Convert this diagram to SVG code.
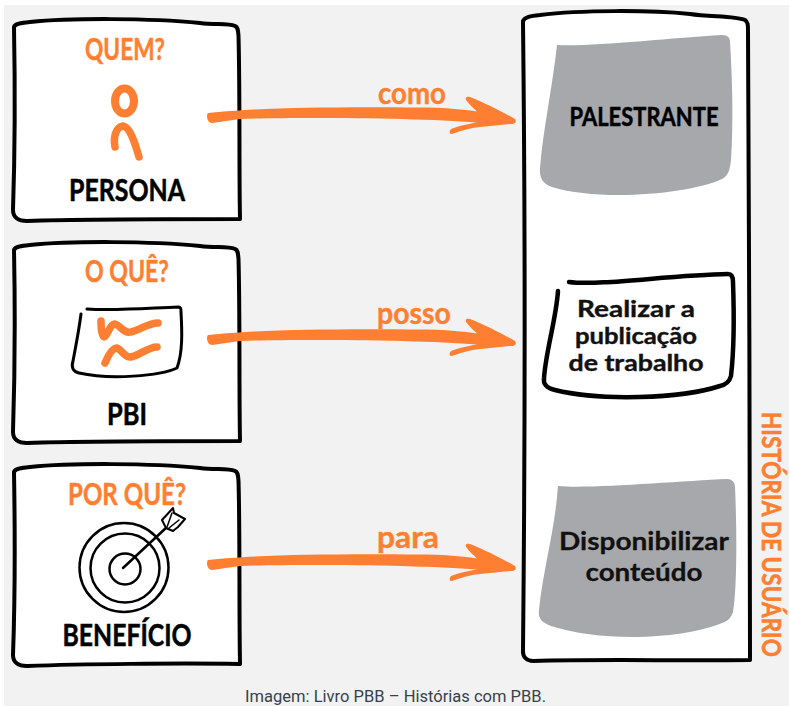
<svg xmlns="http://www.w3.org/2000/svg" width="789" height="706" viewBox="0 0 789 706">
<defs>
<style>
.box{fill:#fff;stroke:#000;stroke-width:4;stroke-linejoin:round}
.ink{fill:none;stroke:#000;stroke-linecap:round;stroke-linejoin:round}
.or{fill:none;stroke:#ff7f32;stroke-linecap:round;stroke-linejoin:round}
.gr{fill:#a7a8ab}
text{font-family:"Lato","Liberation Sans",sans-serif;text-anchor:middle}
.t{font-weight:700;font-size:30px;fill:#000;stroke:#000;stroke-width:.5px}
.q{font-weight:700;font-size:30px;fill:#ff7f32;stroke:#ff7f32;stroke-width:.5px}
.v{font-weight:700;font-size:27px;fill:#ff7f32;stroke:#ff7f32;stroke-width:.6px}
.l{font-weight:700;font-size:31px;fill:#ff7f32;stroke:#ff7f32;stroke-width:.4px}
.b{font-weight:700;font-size:25px;fill:#111;stroke:#111;stroke-width:.3px}
.s{font-weight:700;font-size:22.500px;fill:#111;stroke:#111;stroke-width:.4px}
.cap{font-family:Roboto,"Liberation Sans",sans-serif;font-size:16.500px;fill:#37424c}
</style>
<path id="arrow" fill="#ff7f32" d="M208 113C250 108 330 106.500 420 107.500C440 107.500 460 109 477 111.500C473 108 469 104 466 100C465 97 467 96 470 97C485 103 503 112 515 119C517 122 515 124 511 124L480 127C470 128 460 131 452 134C449 134 449 131 451 129C458 126 468 124 477 122.500C420 118 300 117 240 119C230 120 222 122 212 123C207 123 206 115 208 113Z"/>
</defs>
<rect x="0" y="0" width="789" height="706" fill="#ffffff"/>
<rect x="4" y="5" width="785" height="701" fill="#f2f2f2"/>
<g id="node-quem">
<path class="box" d="M14 27C15 24 20 23 30 22C70 18 150 18 200 23C215 25 228 23 235 26C238 27 238 30 238.500 36C240 90 239 170 240 219C180 219 80 219 27 221C18 221 13 217 13 210C15 150 15 80 14 27Z"/>
<text class="q" x="125" y="60" textLength="80" lengthAdjust="spacingAndGlyphs">QUEM?</text>
<ellipse cx="124.500" cy="101" rx="9.500" ry="12.500" fill="none" stroke="#ff7f32" stroke-width="8"/>
<path class="or" stroke-width="7.500" d="M115 147C113 137 116 127 123 126C130 127 135 143 139 157"/>
<text class="t" x="127" y="201" textLength="116" lengthAdjust="spacingAndGlyphs">PERSONA</text>
</g>
<g id="node-oque">
<path class="box" d="M14 250C15 247 20 246 30 245C70 241 150 241 200 246C215 248 228 246 235 249C238 250 238 253 238.500 259C240 310 239 390 240 441C180 441 80 441 27 443C18 443 13 439 13 432C15 370 15 300 14 250Z"/>
<text class="q" x="127" y="282" textLength="84" lengthAdjust="spacingAndGlyphs">O QUÊ?</text>
<path class="ink" stroke-width="3" d="M87 309C115 311 150 308 178 307C181 307 181 309 181 312C182 330 183 352 177 368C160 376 110 380 79 373C73 372 71 367 73 361C76 345 79 330 81 314"/>
<path class="or" stroke-width="7.500" d="M101 321C101 329 102 336 104 337C108 335 110 324 115 324C121 326 124 334 131 332C140 330 148 323 158 323"/>
<path class="or" stroke-width="7.500" d="M105 363C108 356 112 348 117 348C122 350 125 358 131 357C140 355 148 347 157 347"/>
<text class="t" x="127" y="425" textLength="40" lengthAdjust="spacingAndGlyphs">PBI</text>
</g>
<g id="node-porque">
<path class="box" d="M14 472C15 469 20 468 30 467C70 463 150 463 200 468C215 470 228 468 235 471C238 472 238 475 238.500 481C240 530 239 610 240 664C180 663 80 664 27 666C18 666 13 662 13 655C15 600 15 530 14 472Z"/>
<text class="q" x="127" y="505" textLength="118" lengthAdjust="spacingAndGlyphs">POR QUÊ?</text>
<circle class="ink" stroke-width="2.500" cx="124" cy="567.500" r="44.500"/>
<circle class="ink" stroke-width="2.500" cx="125" cy="568" r="34.500"/>
<circle class="ink" stroke-width="2.500" cx="125" cy="569" r="15.500"/>
<path class="ink" stroke-width="2.500" d="M123 568L167 527"/>
<path d="M162 520L173 508L174 513L185 519L178 527L173 531L166 528Z" fill="#fff" stroke="#000" stroke-width="2" stroke-linejoin="round"/>
<path class="ink" stroke-width="1.500" d="M167 527L172 513M169 528L179 520"/>
<text class="t" x="127" y="646" textLength="129" lengthAdjust="spacingAndGlyphs">BENEFÍCIO</text>
</g>
<g id="node-historia">
<path class="box" d="M523 21C525 17 530 16 540 15C580 10 650 10 690 14C710 17 735 16 745 20C748 22 748 25 748 31C750 200 749 500 750 660C680 661 600 659 533 661C527 661 523 657 523 652C525 450 525 200 523 21Z"/>
<path class="gr" d="M557 45C590 47 670 38 722 35C728 35 730 38 730 42C733 90 733 130 731 160C730 170 728 176 722 179C690 194 600 202 552 187C543 184 539 178 540 168C543 130 552 90 557 45Z"/>
<text class="t" x="644" y="126" textLength="149" lengthAdjust="spacingAndGlyphs" style="font-size:26px">PALESTRANTE</text>
<path class="ink" stroke-width="4.500" d="M569 282C600 286 670 275 728 274C732 274 733 278 733 282C734 310 734 350 731 376C729 383 725 385 720 386C680 399 600 401 555 390C547 388 543 385 544 378C546 350 556 320 558 291"/>
<text class="s" x="636" y="317" textLength="118" lengthAdjust="spacingAndGlyphs">Realizar a</text>
<text class="s" x="636" y="344" textLength="122" lengthAdjust="spacingAndGlyphs">publicação</text>
<text class="s" x="636" y="371" textLength="135" lengthAdjust="spacingAndGlyphs">de trabalho</text>
<path class="gr" d="M558 486C590 489 680 481 727 479C732 479 735 482 735 487C737 530 737 590 733 612C731 618 728 621 722 623C680 640 600 642 551 626C541 622 538 618 539 610C543 570 555 530 558 486Z"/>
<text class="b" x="644" y="550" textLength="170" lengthAdjust="spacingAndGlyphs">Disponibilizar</text>
<text class="b" x="644" y="581" textLength="117" lengthAdjust="spacingAndGlyphs">conteúdo</text>
<text class="v" transform="translate(762 534.500) rotate(90)" textLength="245" lengthAdjust="spacingAndGlyphs">HISTÓRIA DE USUÁRIO</text>
</g>
<g id="connectors">
<use href="#arrow"/>
<use href="#arrow" y="222"/>
<use href="#arrow" y="447"/>
</g>
<g id="labels">
<text class="l" x="412" y="104" textLength="68" lengthAdjust="spacingAndGlyphs">como</text>
<text class="l" x="414" y="324" textLength="74" lengthAdjust="spacingAndGlyphs">posso</text>
<text class="l" x="408" y="548" textLength="62" lengthAdjust="spacingAndGlyphs">para</text>
<text class="cap" x="395.500" y="702" textLength="301" lengthAdjust="spacingAndGlyphs">Imagem: Livro PBB – Histórias com PBB.</text>
</g>
</svg>
